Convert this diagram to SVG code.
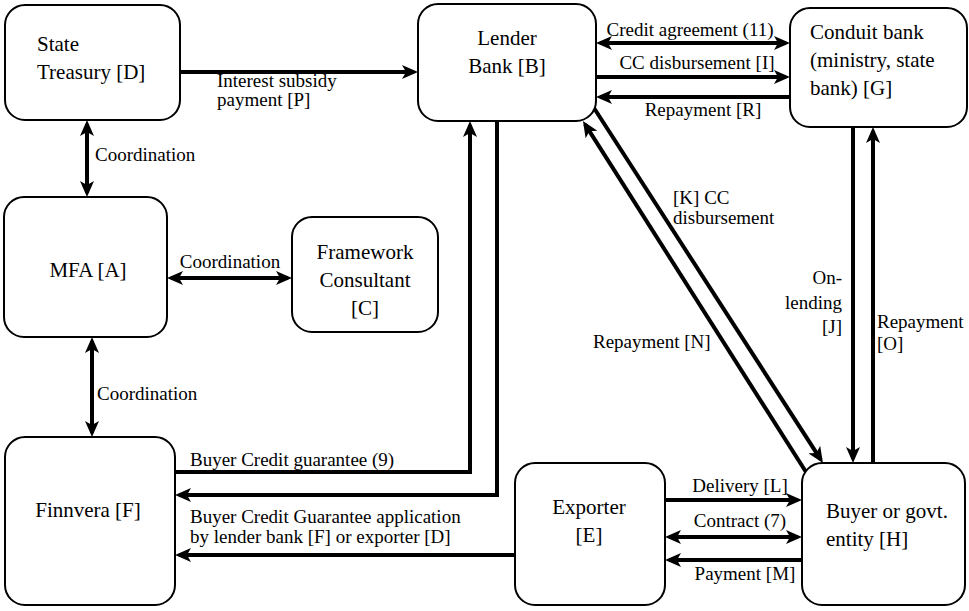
<svg xmlns="http://www.w3.org/2000/svg" width="969" height="611" viewBox="0 0 969 611">
<style>
.box{fill:#fff;stroke:#000;stroke-width:2}
.nt{font-size:21px;fill:#000}
.lt{font-size:19px;fill:#000}
.c{fill:none;stroke:#000;stroke-width:4}
.e{marker-end:url(#ah)}
.b{marker-start:url(#ah);marker-end:url(#ah)}
</style>
<defs>
<marker id="ah" markerUnits="userSpaceOnUse" viewBox="0 0 16 14" markerWidth="16" markerHeight="14" refX="12" refY="7" orient="auto-start-reverse">
<path d="M0,0 L16,7 L0,14 L4,7 z" fill="#000"/>
</marker>
</defs>
<rect width="969" height="611" fill="#fff"/>
<g font-family="'Liberation Serif', 'Times New Roman', 'DejaVu Serif', serif">
<g id="connectors">
<path class="c e" d="M180,72 H414"/>
<path class="c b" d="M87,124 V193"/>
<path class="c b" d="M171,278 H288"/>
<path class="c b" d="M92,341 V433"/>
<path class="c b" d="M600,43 H786"/>
<path class="c e" d="M596,77 H786"/>
<path class="c e" d="M790,97 H600"/>
<path class="c e" d="M175,472 H470 V125"/>
<path class="c e" d="M497,121 V495 H179"/>
<path class="c e" d="M515,555 H179"/>
<path class="c e" d="M665,500 H798"/>
<path class="c b" d="M669,537 H798"/>
<path class="c e" d="M802,560 H669"/>
<path class="c e" d="M853,127 V459"/>
<path class="c e" d="M873,463 V131"/>
<path class="c e" d="M594,108 L820.8,459.6"/>
<path class="c e" d="M806,472 L585.1,124.4"/>
<text class="lt" x="217" y="87">Interest subsidy</text>
<text class="lt" x="217" y="106">payment [P]</text>
<text class="lt" x="95" y="161">Coordination</text>
<text class="lt" x="230" y="268" text-anchor="middle">Coordination</text>
<text class="lt" x="97" y="400">Coordination</text>
<text class="lt" x="690" y="36" text-anchor="middle">Credit agreement (11)</text>
<text class="lt" x="697" y="69" text-anchor="middle">CC disbursement [I]</text>
<text class="lt" x="703" y="116" text-anchor="middle">Repayment [R]</text>
<text class="lt" x="673" y="204">[K] CC</text>
<text class="lt" x="673" y="224">disbursement</text>
<text class="lt" x="593" y="348">Repayment [N]</text>
<text class="lt" x="842" y="284" text-anchor="end">On-</text>
<text class="lt" x="842" y="309" text-anchor="end">lending</text>
<text class="lt" x="842" y="333" text-anchor="end">[J]</text>
<text class="lt" x="877" y="328">Repayment</text>
<text class="lt" x="877" y="350">[O]</text>
<text class="lt" x="190" y="466">Buyer Credit guarantee (9)</text>
<text class="lt" x="190" y="523">Buyer Credit Guarantee application</text>
<text class="lt" x="190" y="543">by lender bank [F] or exporter [D]</text>
<text class="lt" x="740" y="492" text-anchor="middle">Delivery [L]</text>
<text class="lt" x="740" y="527" text-anchor="middle">Contract (7)</text>
<text class="lt" x="745" y="580" text-anchor="middle">Payment [M]</text>
</g>
<g id="state-treasury">
<rect class="box" x="5" y="5" width="175" height="115" rx="20"/>
<text class="nt" x="37" y="51">State</text>
<text class="nt" x="37" y="79">Treasury [D]</text>
</g>
<g id="lender-bank">
<rect class="box" x="418" y="4" width="178" height="117" rx="20"/>
<text class="nt" x="507" y="45" text-anchor="middle">Lender</text>
<text class="nt" x="507" y="73" text-anchor="middle">Bank [B]</text>
</g>
<g id="conduit-bank">
<rect class="box" x="790" y="8" width="177" height="119" rx="20"/>
<text class="nt" x="810" y="39">Conduit bank</text>
<text class="nt" x="810" y="67">(ministry, state</text>
<text class="nt" x="810" y="95">bank) [G]</text>
</g>
<g id="mfa">
<rect class="box" x="4" y="197" width="163" height="140" rx="20"/>
<text class="nt" x="88" y="277" text-anchor="middle">MFA [A]</text>
</g>
<g id="framework-consultant">
<rect class="box" x="292" y="217" width="146" height="115" rx="20"/>
<text class="nt" x="365" y="259" text-anchor="middle">Framework</text>
<text class="nt" x="365" y="287" text-anchor="middle">Consultant</text>
<text class="nt" x="365" y="315" text-anchor="middle">[C]</text>
</g>
<g id="finnvera">
<rect class="box" x="5" y="437" width="170" height="168" rx="20"/>
<text class="nt" x="88" y="517" text-anchor="middle">Finnvera [F]</text>
</g>
<g id="exporter">
<rect class="box" x="515" y="463" width="150" height="142" rx="20"/>
<text class="nt" x="589" y="514" text-anchor="middle">Exporter</text>
<text class="nt" x="589" y="542" text-anchor="middle">[E]</text>
</g>
<g id="buyer">
<rect class="box" x="802" y="463" width="163" height="142" rx="20"/>
<text class="nt" x="826" y="518">Buyer or govt.</text>
<text class="nt" x="826" y="546">entity [H]</text>
</g>
</g>
</svg>
